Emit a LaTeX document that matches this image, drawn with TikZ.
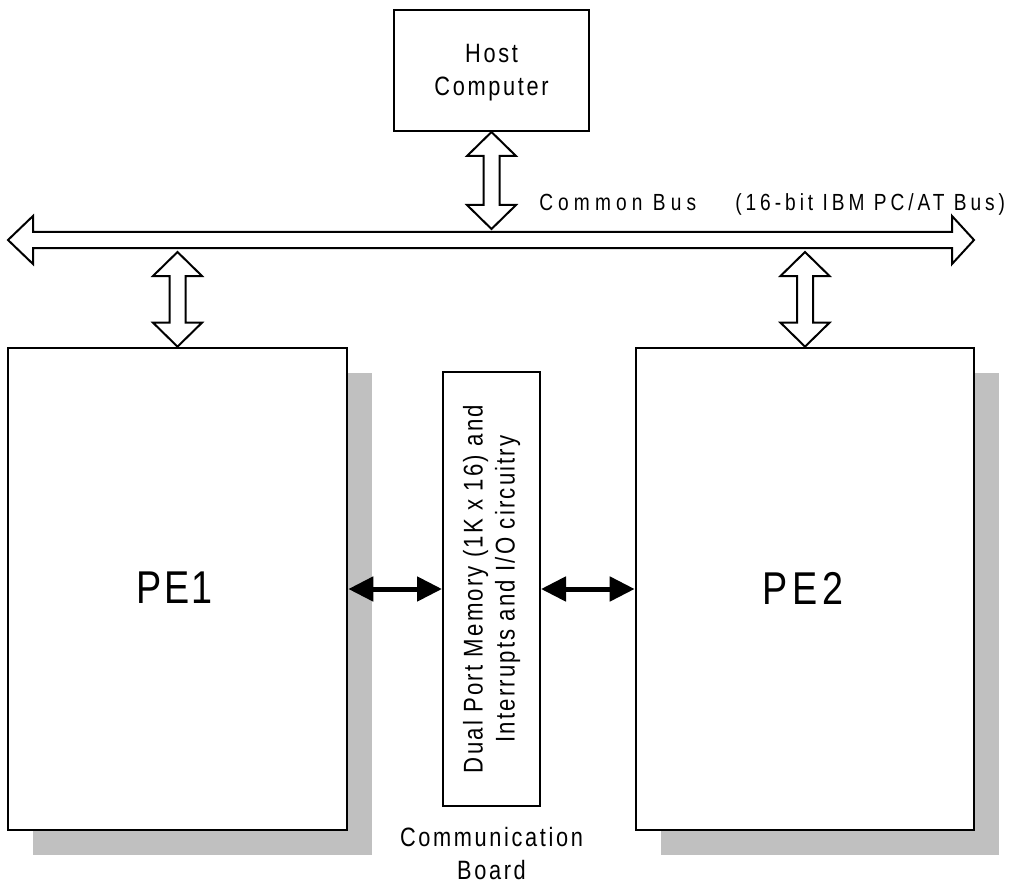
\documentclass[tikz,border=0pt]{standalone}
\usepackage{fontspec}
\setmainfont{Liberation Sans}[FakeStretch=0.82]
\usetikzlibrary{calc}
\usetikzlibrary{fit}
\usetikzlibrary{shadows}
\usetikzlibrary{arrows.meta}
\definecolor[named]{ShadowGray}{RGB}{192,192,192}
\tikzset{pxg/.style={
  x=0.75pt,
  y=-0.75pt
}}
\tikzset{blk/.style={
  draw,
  fill=white,
  line width=1.5pt,
  inner sep=0pt,
}}
\tikzset{peblk/.style={
  blk,
  line width=2pt,
  drop shadow={shadow xshift=18.4pt,shadow yshift=-18.4pt,opacity=1,fill=ShadowGray}
}}
\tikzset{txt/.style={inner sep=0pt,align=center}}
\tikzset{hollow/.style={draw,fill=white,line width=1.5pt}}
\tikzset{dlink/.style={
  line width=3.75pt,
  {Triangle[length=18.75pt,width=18pt]}-{Triangle[length=18.75pt,width=18pt]}
}}
\newcommand{\lfont}[3]{\fontsize{#1}{#2}\selectfont\addfontfeature{LetterSpace=#3}}
\newcommand{\hollowlink}[2]{
  \draw[hollow] (#1) -- ($(#1)+(24.5,24)$) -- ($(#1)+(8,24)$)
    -- ($(#2)+(8,-24)$) -- ($(#2)+(24.5,-24)$) -- (#2)
    -- ($(#2)+(-24.5,-24)$) -- ($(#2)+(-8,-24)$)
    -- ($(#1)+(-8,24)$) -- ($(#1)+(-24.5,24)$) -- cycle;
}

\begin{document}
\begin{tikzpicture}[pxg]
    \useasboundingbox (0,0) rectangle (1009,884);

    %% Blocks

    \node[blk,fit={(394,10) (589,131)}] (host) {};
    \node[txt,font=\lfont{19.9pt}{24.75pt}{10}] (hostname)
      at ($(host.center)+(0,2)$) {Host\\Computer};
    \node[peblk,fit={(8,348) (347,830)}] (pe1) {};
    \node[txt,font=\lfont{34.5pt}{40pt}{6}] (pe1name)
      at ($(pe1.center)+(-3,-1)$) {PE1};
    \node[peblk,fit={(636,348) (974,830)}] (pe2) {};
    \node[txt,font=\lfont{34.5pt}{40pt}{10}] (pe2name)
      at ($(pe2.center)+(-2,-1)$) {PE2};
    \node[blk,fit={(443,372) (540,806)}] (comm) {};
    \node[txt,rotate=90,font=\lfont{20.3pt}{24pt}{8}] (commtext) at (comm.center)
      {Dual Port Memory (1K x 16) and\\Interrupts and I/O circuitry};
    \node[txt,anchor=north,font=\lfont{19.9pt}{24.75pt}{10}] (board)
      at ($(comm.south)+(0,20)$) {Communication\\Board};

    %% Common bus

    % Arrow body
    \coordinate (busL) at (8,240);
    \coordinate (busR) at (974,240);
    \draw[hollow] (busL) -- ++(25,-24) -- ++(0,16)
      -- ($(busR)+(-22,-8)$) -- ++(0,-16) -- (busR)
      -- ++(-22,24) -- ++(0,-16)
      -- ($(busL)+(25,8)$) -- ++(0,16) -- cycle;
    \node[txt,anchor=base west,font=\lfont{17.5pt}{20pt}{22}] (busname)
      at (539,211) {Common Bus};
    \node[txt,anchor=base west,font=\lfont{17.5pt}{20pt}{17}] (bustype)
      at (735,211) {(16-bit IBM PC/AT Bus)};

    % Ports
    \coordinate (hostport) at ($(host.south |- busL)+(0,-11)$);
    \coordinate (pe1port) at ($(pe1.north |- busL)+(0,12)$);
    \coordinate (pe2port) at ($(pe2.north |- busL)+(0,12)$);
    \hollowlink{host.south}{hostport}
    \hollowlink{pe1port}{pe1.north}
    \hollowlink{pe2port}{pe2.north}

    %% Links to the board

    \draw[dlink] (pe1.east) -- (comm.west);
    \draw[dlink] (comm.east) -- (comm.east -| pe2.west);

  \end{tikzpicture}
\end{document}
